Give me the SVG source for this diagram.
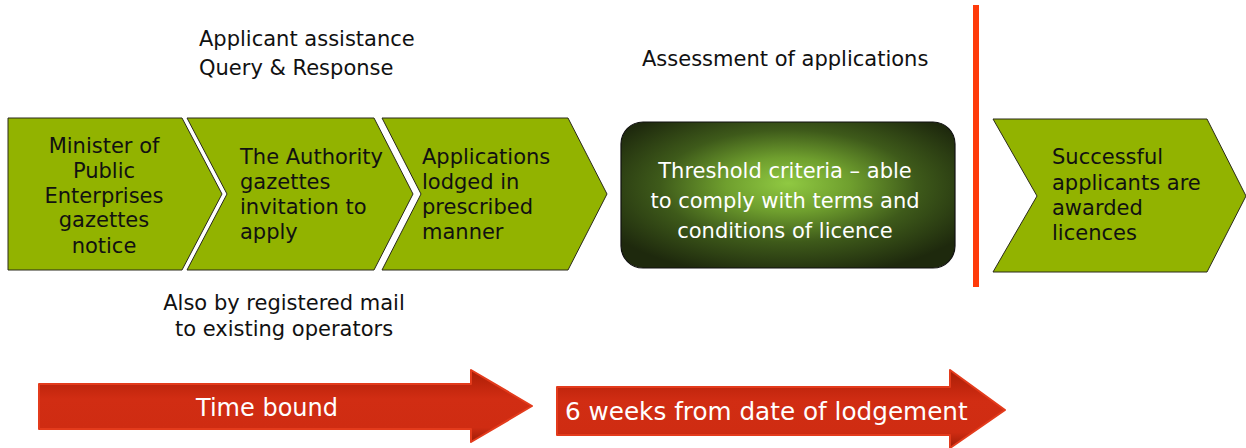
<svg xmlns="http://www.w3.org/2000/svg" width="1246" height="448" viewBox="0 0 1246 448">
  <style>
    .chev { fill: #92b300; stroke: #2a2a1a; stroke-width: 1; }
    .t { font-family: "DejaVu Sans", Verdana, sans-serif; font-size: 21px; fill: #111; }
    .w { font-family: "DejaVu Sans", Verdana, sans-serif; font-size: 21px; fill: #ffffff; }
    .aw { font-family: "DejaVu Sans", Verdana, sans-serif; font-size: 24px; fill: #ffffff; }
    .mid { text-anchor: middle; }
    .arrow { fill: url(#redGrad); stroke: #e33b1c; stroke-width: 2; stroke-linejoin: round; }
  </style>
  <defs>
    <radialGradient id="boxGrad" cx="50%" cy="45%" r="62%" fx="50%" fy="42%">
      <stop offset="0%" stop-color="#90c942"/>
      <stop offset="30%" stop-color="#6f9f2e"/>
      <stop offset="62%" stop-color="#3e5a1a"/>
      <stop offset="100%" stop-color="#1e290d"/>
    </radialGradient>
    <linearGradient id="redGrad" x1="0" y1="0" x2="0" y2="1">
      <stop offset="0%" stop-color="#a81f06"/>
      <stop offset="25%" stop-color="#c4270e"/>
      <stop offset="40%" stop-color="#d12d13"/>
      <stop offset="80%" stop-color="#cf2c12"/>
      <stop offset="100%" stop-color="#9e1c06"/>
    </linearGradient>
  </defs>

  <rect x="0" y="0" width="1246" height="448" fill="#ffffff"/>

  <g id="label-assistance">
    <text class="t" x="199" y="46">Applicant assistance</text>
    <text class="t" x="199" y="75">Query &amp; Response</text>
  </g>
  <g id="label-assessment">
    <text class="t" x="642" y="66">Assessment of applications</text>
  </g>
  <g id="label-mail">
    <text class="t mid" x="284" y="310">Also by registered mail</text>
    <text class="t mid" x="284" y="336">to existing operators</text>
  </g>

  <g id="node-minister">
    <polygon class="chev" points="8,118 182,118 222,194 182,270 8,270"/>
    <text class="t mid" x="104" y="153">Minister of</text>
    <text class="t mid" x="104" y="178">Public</text>
    <text class="t mid" x="104" y="203">Enterprises</text>
    <text class="t mid" x="104" y="227">gazettes</text>
    <text class="t mid" x="104" y="253">notice</text>
  </g>

  <g id="node-authority">
    <polygon class="chev" points="187,118 374,118 413,194 374,270 187,270 227,194"/>
    <text class="t" x="240" y="164">The Authority</text>
    <text class="t" x="240" y="189">gazettes</text>
    <text class="t" x="240" y="214">invitation to</text>
    <text class="t" x="240" y="239">apply</text>
  </g>

  <g id="node-applications">
    <polygon class="chev" points="382,118 568,118 607,194 568,270 382,270 421,194"/>
    <text class="t" x="422" y="164">Applications</text>
    <text class="t" x="422" y="189">lodged in</text>
    <text class="t" x="422" y="214">prescribed</text>
    <text class="t" x="422" y="239">manner</text>
  </g>

  <g id="node-threshold">
    <rect x="621" y="122" width="334" height="146" rx="22" ry="22" fill="url(#boxGrad)" stroke="#111" stroke-width="1.2"/>
    <text class="w mid" x="785" y="178">Threshold criteria – able</text>
    <text class="w mid" x="785" y="208">to comply with terms and</text>
    <text class="w mid" x="785" y="238">conditions of licence</text>
  </g>

  <g id="divider">
    <rect x="973" y="5" width="6" height="282" fill="#ff3b0a"/>
  </g>

  <g id="node-successful">
    <polygon class="chev" points="993,119 1207,119 1246,196 1207,272 993,272 1037,196"/>
    <text class="t" x="1052" y="164">Successful</text>
    <text class="t" x="1052" y="190">applicants are</text>
    <text class="t" x="1052" y="215">awarded</text>
    <text class="t" x="1052" y="240">licences</text>
  </g>

  <g id="connectors">
    <g id="arrow-time-bound">
      <path class="arrow" d="M39,384 L471,384 L471,370 L532,406 L471,442 L471,429 L39,429 Z"/>
      <text class="aw mid" x="267" y="416">Time bound</text>
    </g>
    <g id="arrow-six-weeks">
      <path class="arrow" d="M557,387 L950,387 L950,370 L1005,410 L950,448 L950,435 L557,435 Z"/>
      <text class="aw" x="565" y="420" style="font-size:24.7px">6 weeks from date of lodgement</text>
    </g>
  </g>
</svg>
